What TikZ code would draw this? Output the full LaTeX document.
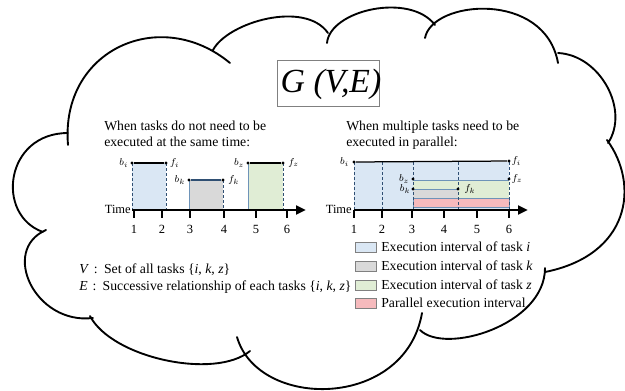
\documentclass[tikz,border=0pt]{standalone}
\usepackage{fontspec}
\setmainfont{Liberation Serif}
\usetikzlibrary{arrows.meta, positioning}

\definecolor{taski}{HTML}{DAE7F4}
\definecolor{taskk}{HTML}{D9D9D9}
\definecolor{taskz}{HTML}{E0EDD5}
\definecolor{para}{HTML}{F6BABD}
\definecolor{edgeblue}{HTML}{6E93B8}
\definecolor{dashblue}{HTML}{2F4F73}

\tikzset{
	cloud/.style = {line width=1.5pt, line cap=round},
	txt/.style = {font=\fontsize{11}{12.8}\selectfont, align=left, inner sep=0pt},
	lbl/.style = {font=\fontsize{8}{9}\selectfont, inner sep=0.5pt},
	tick/.style = {font=\fontsize{10}{11}\selectfont, inner sep=0pt},
	pt/.style = {circle, fill=black, inner sep=0pt, minimum size=2.6pt},
	axis/.style = {-{Triangle[length=8pt,width=7pt]}, line width=2pt},
	vdash/.style = {dashed, dashblue, line width=0.6pt, dash pattern=on 2.5pt off 1.5pt},
	legbox/.style = {draw=gray, line width=0.6pt},
}

\begin{document}
\begin{tikzpicture}[x=0.8pt, y=-0.8pt]
	\useasboundingbox (0,0) rectangle (625,390);

	% cloud
	\draw [cloud]
		(68,145) .. controls (60,50) and (160,5) .. (230,63)
		(213,50) .. controls (228,22) and (305,0) .. (328,33)
		(327,43) .. controls (330,10) and (410,-8) .. (435,25)
		(425,38) .. controls (432,0) and (545,-10) .. (558,63)
		(558,53) .. controls (600,55) and (630,110) .. (608,143)
		(607,140) .. controls (640,185) and (630,255) .. (545,272)
		(420,330) .. controls (445,355) and (545,325) .. (545,268)
		(237,337) .. controls (258,410) and (405,410) .. (422,313)
		(90,316) .. controls (112,358) and (215,380) .. (250,351)
		(46,230) .. controls (0,250) and (35,325) .. (93,318)
		(68,133) .. controls (5,133) and (-5,215) .. (43,232);

	% title
	\draw [gray, line width=0.6pt] (277,60) rectangle (379,106);
	\node (gtitle) at (331,84) {\fontsize{27}{30}\selectfont\textit{G (V,E)}};

	% left chart
	\node (lhead) [txt, anchor=north west] at (104,121) {When tasks do not need to be\\executed at the same time:};
	\fill [taski] (132,163) rectangle (166,210);
	\fill [taskk] (189,180) rectangle (223,210);
	\fill [taskz] (248,163) rectangle (283,210);
	\draw [edgeblue, line width=0.6pt] (189,180) -- (189,210) (248,163) -- (248,210);
	\draw [vdash] (132,163) -- (132,210) (166,163) -- (166,210)
		(223,180) -- (223,210) (283,163) -- (283,210);
	\node (lbi) [pt] at (132,163) {};
	\node (lfi) [pt] at (166,163) {};
	\node (lbk) [pt] at (189,180) {};
	\node (lfk) [pt] at (223,180) {};
	\node (lbz) [pt] at (248,163) {};
	\node (lfz) [pt] at (283,163) {};
	\draw [line width=0.9pt] (lbi) -- (lfi);
	\draw [dashblue, line width=0.9pt] (lbk) -- (lfk);
	\draw [line width=0.9pt] (lbz) -- (lfz);
	\node (lbil) [lbl, left = 1pt of lbi] {$b_i$};
	\node (lfil) [lbl, right = 1pt of lfi] {$f_i$};
	\node (lbkl) [lbl, left = 1pt of lbk] {$b_k$};
	\node (lfkl) [lbl, right = 2pt of lfk] {$f_k$};
	\node (lbzl) [lbl, left = 1pt of lbz] {$b_z$};
	\node (lfzl) [lbl, right = 2pt of lfz] {$f_z$};
	\coordinate (lorg) at (132,210);
	\coordinate (lend) at (306,210);
	\draw [axis] (lorg) -- (lend);
	\node (ltime) [tick, anchor=east] at (131,209) {Time};
	\foreach \n/\x in {1/134, 2/162, 3/190, 4/224, 5/256, 6/287} {
		\draw [line width=1pt] (\x,210) -- (\x,218);
		\node (lt\n) [tick] at (\x,229) {\n};
	}

	% right chart
	\node (rhead) [txt, anchor=north west] at (346,121) {When multiple tasks need to be\\executed in parallel:};
	\fill [taski] (354,162) rectangle (509,210);
	\fill [taskz] (413,180) rectangle (509,198);
	\fill [taskk] (413,189) rectangle (458,198);
	\fill [para] (413,198) rectangle (509,207);
	\draw [edgeblue, line width=0.8pt] (413,180) -- (509,180) (413,189) -- (458,189);
	\draw [edgeblue, line width=0.8pt] (413,198) rectangle (509,207);
	\draw [vdash] (354,162) -- (354,210) (382,162) -- (382,210)
		(413,162) -- (413,210) (458,162) -- (458,210) (509,162) -- (509,210);
	\node (rbi) [pt] at (354,162) {};
	\node (rfi) [pt] at (509,161) {};
	\node (rbz) [pt] at (413,179) {};
	\node (rfz) [pt] at (509,179) {};
	\node (rbk) [pt] at (413,189) {};
	\node (rfk) [pt] at (458,189) {};
	\draw [line width=1pt] (rbi) -- (rfi);
	\node (rbil) [lbl, left = 2pt of rbi] {$b_i$};
	\node (rfil) [lbl, right = 0pt of rfi] {$f_i$};
	\node (rbzl) [lbl, left = 1pt of rbz] {$b_z$};
	\node (rfzl) [lbl, right = 0pt of rfz] {$f_z$};
	\node (rbkl) [lbl, left = 0pt of rbk] {$b_k$};
	\node (rfkl) [lbl, right = 3pt of rfk] {$f_k$};
	\coordinate (rorg) at (354,210);
	\coordinate (rend) at (528,210);
	\draw [axis] (rorg) -- (rend);
	\node (rtime) [tick, anchor=east] at (352,209) {Time};
	\foreach \n/\x in {1/354, 2/382, 3/412, 4/444, 5/477, 6/509} {
		\draw [line width=1pt] (\x,210) -- (\x,218);
		\node (rt\n) [tick] at (\x,229) {\n};
	}

	% legend
	\foreach \c/\y/\t [count=\i] in {taski/247/Execution interval of task \textit{i},
		taskk/266/Execution interval of task \textit{k},
		taskz/285/Execution interval of task \textit{z},
		para/303/Parallel execution interval} {
		\draw [legbox, fill=\c] (355,\y-5) rectangle (376,\y+5);
		\node (leg\i) [txt, anchor=west] at (381,\y) {\t};
	}

	% sets
	\node (vset) [txt, anchor=west] at (79,270) {\textit{V}\hspace{4pt}:\hspace{5pt}Set of all tasks \{\textit{i}, \textit{k}, \textit{z}\}};
	\node (eset) [txt, anchor=west] at (79,287) {\textit{E}\hspace{4pt}:\hspace{5pt}Successive relationship of each tasks \{\textit{i}, \textit{k}, \textit{z}\}};
\end{tikzpicture}
\end{document}
